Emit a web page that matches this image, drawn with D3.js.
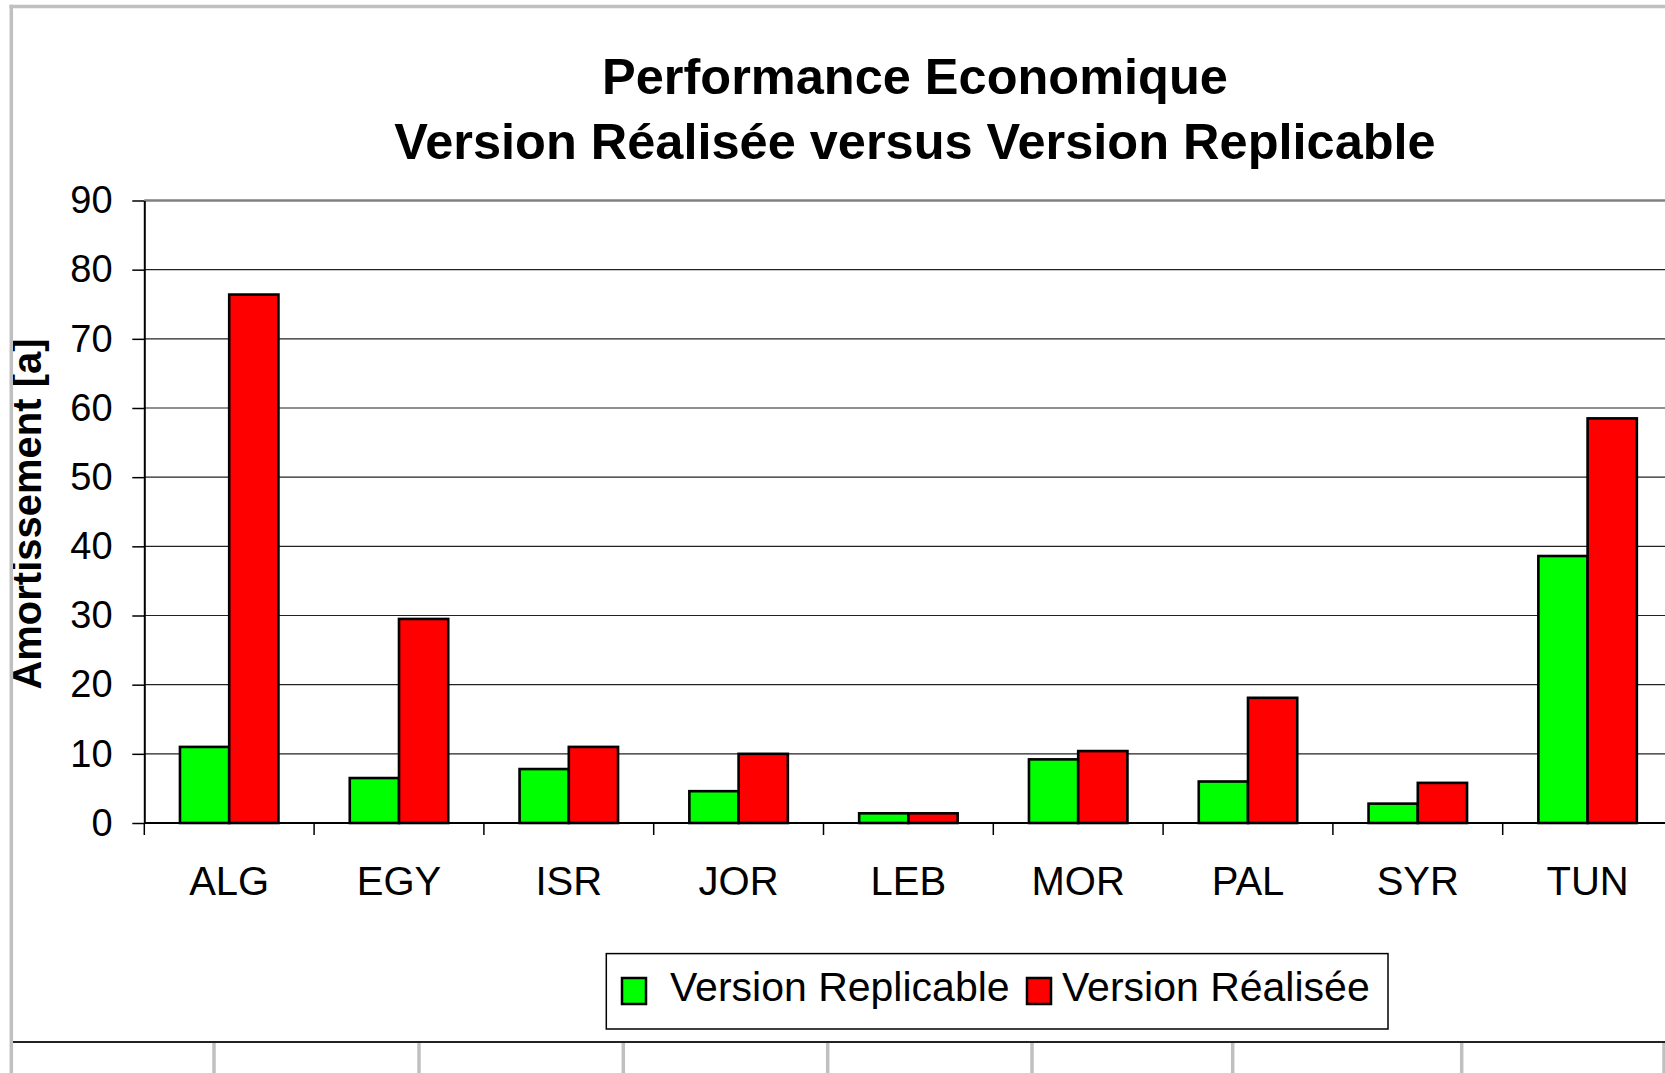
<!DOCTYPE html>
<html>
<head>
<meta charset="utf-8">
<script src="https://cdn.jsdelivr.net/npm/d3@7/dist/d3.min.js"></script>
<style>
  html, body { margin: 0; padding: 0; background: #fff; }
  svg { display: block; }
  text { font-family: "Liberation Sans", Arial, sans-serif; fill: #000; }
</style>
</head>
<body>
<div id="chart"></div>
<script>
const categories = ["ALG", "EGY", "ISR", "JOR", "LEB", "MOR", "PAL", "SYR", "TUN"];
const seriesNames = ["Version Replicable", "Version Réalisée"];
const replicable = [11.0, 6.5, 7.8, 4.6, 1.4, 9.2, 6.0, 2.8, 38.6];
const realisee = [76.4, 29.5, 11.0, 10.0, 1.4, 10.4, 18.1, 5.8, 58.5];
const yTicks = [0, 10, 20, 30, 40, 50, 60, 70, 80, 90];
const seriesColors = ["#00ff00", "#ff0000"];
// spreadsheet cell borders visible under the chart
const cellLines = [214, 419, 623.3, 827.7, 1032, 1232.7, 1461.7, 1664];

const width = 1665;
const height = 1073;
const plot = { left: 144.3, top: 200.5, bottom: 823, right: 144.3 + 9 * 169.8 };

const svg = d3.select("#chart")
    .append("svg")
    .attr("width", width)
    .attr("height", height);

const x0 = d3.scaleBand()
    .domain(categories)
    .range([plot.left, plot.right])
    .paddingInner(0.42)
    .paddingOuter(0.21);

const x1 = d3.scaleBand()
    .domain(seriesNames)
    .range([0, x0.bandwidth()]);

const y = d3.scaleLinear()
    .domain([0, 90])
    .range([plot.bottom, plot.top]);

// Gridlines
svg.append("g")
    .selectAll("line")
    .data(yTicks.slice(1, -1))
    .enter()
    .append("line")
    .attr("x1", plot.left)
    .attr("x2", width)
    .attr("y1", d => y(d))
    .attr("y2", d => y(d))
    .attr("stroke", "#222")
    .attr("stroke-width", 1.2);

// Plot area top border
svg.append("line")
    .attr("x1", plot.left)
    .attr("x2", width)
    .attr("y1", y(90))
    .attr("y2", y(90))
    .attr("stroke", "#808080")
    .attr("stroke-width", 2.5);

// Bars
const rows = categories.map((c, i) => ({ cat: c, values: [replicable[i], realisee[i]] }));

svg.append("g")
    .selectAll("g")
    .data(rows)
    .enter()
    .append("g")
    .attr("transform", d => `translate(${x0(d.cat)},0)`)
    .selectAll("rect")
    .data(d => d.values.map((v, k) => ({ key: seriesNames[k], value: v, color: seriesColors[k] })))
    .enter()
    .append("rect")
    .attr("x", d => x1(d.key))
    .attr("y", d => y(d.value))
    .attr("width", x1.bandwidth())
    .attr("height", d => y(0) - y(d.value))
    .attr("fill", d => d.color)
    .attr("stroke", "#000")
    .attr("stroke-width", 2.6);

// Y axis
const yAxis = svg.append("g")
    .attr("transform", `translate(${plot.left},0)`)
    .call(d3.axisLeft(y).tickValues(yTicks).tickSize(12).tickPadding(19.7).tickSizeOuter(0));
yAxis.select(".domain").attr("stroke", "#000").attr("stroke-width", 2);
yAxis.selectAll(".tick line").attr("stroke", "#000").attr("stroke-width", 1.5);
yAxis.selectAll(".tick text")
    .attr("font-size", "38px")
    .attr("font-family", "'Liberation Sans', Arial, sans-serif")
    .attr("fill", "#000");

// X axis line
svg.append("line")
    .attr("x1", plot.left)
    .attr("x2", width)
    .attr("y1", y(0))
    .attr("y2", y(0))
    .attr("stroke", "#000")
    .attr("stroke-width", 2);

// Category boundary ticks
svg.append("g")
    .selectAll("line")
    .data(categories)
    .enter()
    .append("line")
    .attr("x1", d => x0(d) - x0.step() * x0.paddingOuter())
    .attr("x2", d => x0(d) - x0.step() * x0.paddingOuter())
    .attr("y1", y(0))
    .attr("y2", y(0) + 12)
    .attr("stroke", "#000")
    .attr("stroke-width", 1.5);

// Category labels
const xAxis = svg.append("g")
    .attr("transform", `translate(0,${plot.bottom})`)
    .call(d3.axisBottom(x0).tickSize(0));
xAxis.select(".domain").remove();
xAxis.selectAll(".tick text")
    .attr("y", 72)
    .attr("dy", null)
    .attr("font-size", "40px")
    .attr("font-family", "'Liberation Sans', Arial, sans-serif")
    .attr("fill", "#000");

// Title
svg.append("text")
    .attr("x", 915)
    .attr("y", 93.5)
    .attr("text-anchor", "middle")
    .attr("font-size", "50.5px")
    .attr("font-weight", "bold")
    .text("Performance Economique");

svg.append("text")
    .attr("x", 915)
    .attr("y", 159)
    .attr("text-anchor", "middle")
    .attr("font-size", "50.5px")
    .attr("font-weight", "bold")
    .text("Version Réalisée versus Version Replicable");

// Y axis title
svg.append("text")
    .attr("transform", "translate(41,514) rotate(-90)")
    .attr("text-anchor", "middle")
    .attr("font-size", "40px")
    .attr("font-weight", "bold")
    .text("Amortissement [a]");

// Legend
const legend = svg.append("g");
legend.append("rect")
    .attr("x", 606.3)
    .attr("y", 953.6)
    .attr("width", 781.7)
    .attr("height", 75.4)
    .attr("fill", "#fff")
    .attr("stroke", "#000")
    .attr("stroke-width", 1.5);

const legendItems = [
    { swatchX: 622, textX: 670 },
    { swatchX: 1027, textX: 1062 }
];
legendItems.forEach((item, i) => {
    legend.append("rect")
        .attr("x", item.swatchX)
        .attr("y", 978)
        .attr("width", 24)
        .attr("height", 26)
        .attr("fill", seriesColors[i])
        .attr("stroke", "#000")
        .attr("stroke-width", 2.5);
    legend.append("text")
        .attr("x", item.textX)
        .attr("y", 1001)
        .attr("font-size", "41px")
        .text(seriesNames[i]);
});

// Worksheet frame around the chart
svg.append("line")
    .attr("x1", 9.5).attr("x2", width)
    .attr("y1", 6.5).attr("y2", 6.5)
    .attr("stroke", "#c0c0c0").attr("stroke-width", 3.5);
svg.append("line")
    .attr("x1", 11.3).attr("x2", 11.3)
    .attr("y1", 4.8).attr("y2", height)
    .attr("stroke", "#c0c0c0").attr("stroke-width", 3.5);
svg.append("line")
    .attr("x1", 13).attr("x2", width)
    .attr("y1", 1042).attr("y2", 1042)
    .attr("stroke", "#222").attr("stroke-width", 2);
svg.append("g")
    .selectAll("line")
    .data(cellLines)
    .enter()
    .append("line")
    .attr("x1", d => d).attr("x2", d => d)
    .attr("y1", 1043).attr("y2", height)
    .attr("stroke", "#c0c0c0").attr("stroke-width", 3.5);
</script>
</body>
</html>
